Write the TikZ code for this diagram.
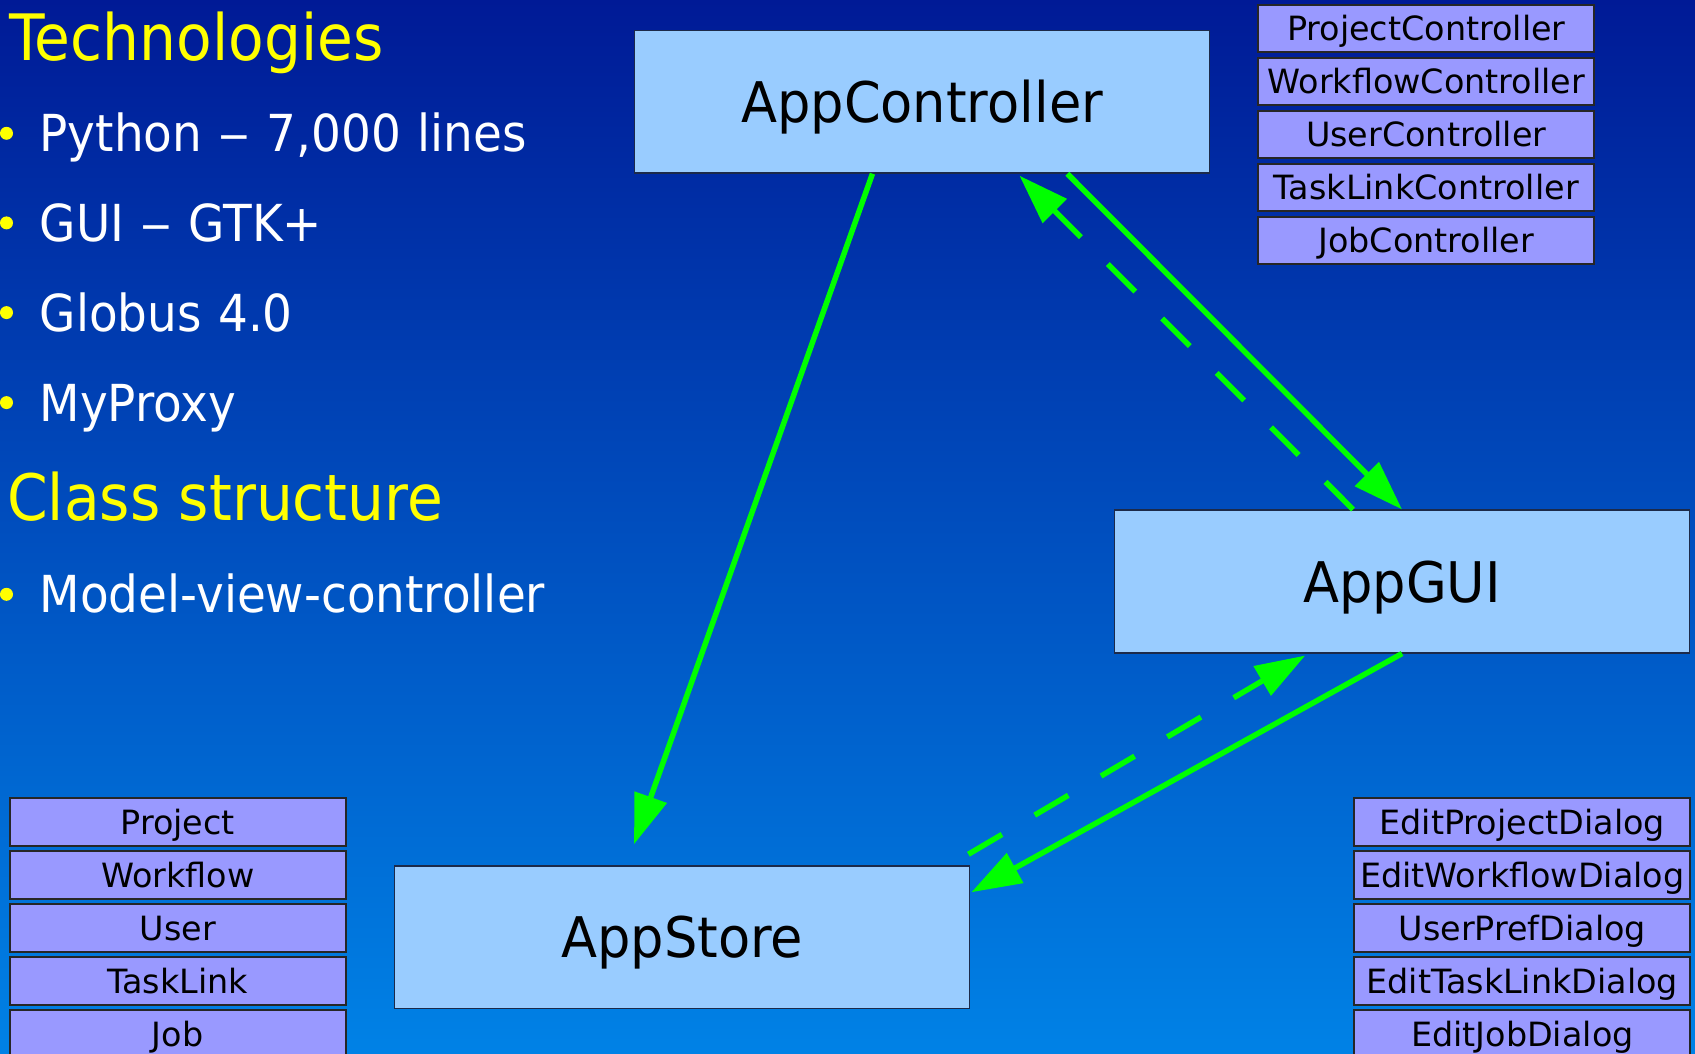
\documentclass[tikz,border=0pt]{standalone}
\usepackage{fontspec}
\usepackage{graphicx}
\setmainfont{DejaVu Sans}
\newfontfamily\narrowfont[FakeStretch=0.92,WordSpace=1.1]{DejaVu Sans}
\newfontfamily\headfont[FakeStretch=0.91]{DejaVu Sans}
\newfontfamily\labelfont[FakeStretch=0.94]{DejaVu Sans}
\newcommand{\wdash}{\scalebox{1.35}[1]{–}}
\usetikzlibrary{arrows.meta,calc}
\definecolor{bgtop}{HTML}{001A96}
\definecolor{bgbot}{HTML}{0082E6}
\definecolor{boxblue}{HTML}{99CCFF}
\definecolor{classfill}{HTML}{9999FF}
\definecolor{boxline}{HTML}{1C2A4A}
\definecolor{arrowgreen}{HTML}{00FF00}
\definecolor{titleyellow}{HTML}{FFFF00}
\begin{document}
\begin{tikzpicture}[x=1pt,y=-1pt,
  bigbox/.style={draw=boxline, line width=1.5pt, fill=boxblue, minimum width=575pt, minimum height=142.6pt, inner sep=0pt, text height=41pt, text depth=0pt, font=\labelfont\fontsize{56}{56}\selectfont},
  smallbox/.style={draw=black!85, line width=2pt, fill=classfill, minimum width=336pt, minimum height=47.6pt, inner sep=0pt, text height=24.3pt, text depth=0pt, font=\fontsize{33.4}{33.4}\selectfont},
  heading/.style={anchor=base west, inner sep=0pt, text=titleyellow, font=\headfont\fontsize{64}{64}\selectfont},
  item/.style={anchor=base west, inner sep=0pt, text=white, font=\narrowfont\fontsize{51}{51}\selectfont},
  bul/.style={circle, fill=titleyellow, minimum size=13pt, inner sep=0pt},
  conn/.style={draw=arrowgreen, line width=5.5pt, -{Triangle[length=50pt,width=33pt]}},
  dconn/.style={conn, dash pattern=on 39pt off 38pt}
]
\useasboundingbox (0,0) rectangle (1695,1054);
\clip (0,0) rectangle (1695,1054);
\shade[top color=bgtop, bottom color=bgbot] (0,0) rectangle (1695,1054);

% left text
\node[heading] (h1) at (9,60.7) {Technologies};
\node[bul] (b1) at (6.5,133.3) {};
\node[item] (i1) at (39.5,151.7) {Python \wdash{} 7,000 lines};
\node[bul] (b2) at (6.5,222.9) {};
\node[item] (i2) at (39.5,241.3) {GUI \wdash{} GTK+};
\node[bul] (b3) at (6.5,312.6) {};
\node[item] (i3) at (39.5,331) {Globus 4.0};
\node[bul] (b4) at (6.5,402.6) {};
\node[item] (i4) at (39.5,421) {MyProxy};
\node[heading] (h2) at (7,520.7) {Class structure};
\node[bul] (b5) at (6.5,594.3) {};
\node[item] (i5) at (39.5,612.7) {Model-view-controller};

% main boxes
\node[bigbox] (ac) at (922.05,101.65) {AppController};
\node[bigbox] (ag) at (1402.05,581.5) {AppGUI};
\node[bigbox] (as) at (682.15,937.3) {AppStore};

% controllers
\node[smallbox] (c1) at (1426.3,28.5) {ProjectController};
\node[smallbox] (c2) at (1426.3,81.5) {WorkflowController};
\node[smallbox] (c3) at (1426.3,134.5) {UserController};
\node[smallbox] (c4) at (1426.3,187.5) {TaskLinkController};
\node[smallbox] (c5) at (1426.3,240.5) {JobController};

% models
\node[smallbox] (m1) at (177.7,822.2) {Project};
\node[smallbox] (m2) at (177.7,875.2) {Workflow};
\node[smallbox] (m3) at (177.7,928.2) {User};
\node[smallbox] (m4) at (177.7,981.2) {TaskLink};
\node[smallbox] (m5) at (177.7,1034.2) {Job};

% dialogs
\node[smallbox] (d1) at (1522.3,822.2) {EditProjectDialog};
\node[smallbox] (d2) at (1522.3,875.2) {EditWorkflowDialog};
\node[smallbox] (d3) at (1522.3,928.2) {UserPrefDialog};
\node[smallbox] (d4) at (1522.3,981.2) {EditTaskLinkDialog};
\node[smallbox] (d5) at (1522.3,1034.2) {EditJobDialog};

% connectors
\coordinate (asin) at ($(as.north west)+(240.1,-21)$);
\draw[conn] ($(ac.south west)!0.414!(ac.south east)$) -- (asin);
\draw[conn] ($(ac.south west)!0.752!(ac.south east)$) -- (ag.north);
\draw[dconn] ($(ag.north west)!0.415!(ag.north east)$) -- ($(ac.south west)!0.669!(ac.south east)+(0,2)$);
\draw[conn] (ag.south) -- ($(as.north east)+(1,27)$);
\draw[dconn] ($(as.north east)+(-2,-11)$) -- ($(ag.south west)!0.332!(ag.south east)+(0,2)$);
\end{tikzpicture}
\end{document}
